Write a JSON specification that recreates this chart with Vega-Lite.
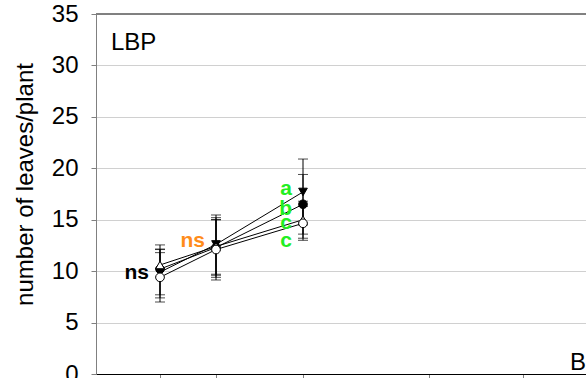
{
  "$schema": "https://vega.github.io/schema/vega-lite/v6.json",
  "width": 490,
  "height": 360,
  "autosize": {"type": "none"},
  "padding": {"left": 96, "top": 14, "right": 0, "bottom": 4},
  "background": "white",
  "config": {
    "font": "Liberation Sans",
    "view": {"stroke": null},
    "axis": {"labelFont": "Liberation Sans", "titleFont": "Liberation Sans"}
  },
  "datasets": {
    "leaves": [
      {"series": "S1", "t": 6.4, "mean": 9.9, "lo": 7.4, "hi": 12.15},
      {"series": "S1", "t": 12.0, "mean": 12.6, "lo": 9.7, "hi": 15.46},
      {"series": "S1", "t": 20.7, "mean": 17.7, "lo": 14.5, "hi": 20.9},
      {"series": "S2", "t": 6.4, "mean": 10.2, "lo": 7.7, "hi": 12.55},
      {"series": "S2", "t": 12.0, "mean": 12.3, "lo": 9.4, "hi": 15.2},
      {"series": "S2", "t": 20.7, "mean": 16.5, "lo": 13.6, "hi": 19.4},
      {"series": "S3", "t": 6.4, "mean": 10.6, "lo": 9.4, "hi": 11.8},
      {"series": "S3", "t": 12.0, "mean": 12.4, "lo": 9.6, "hi": 15.0},
      {"series": "S3", "t": 20.7, "mean": 15.0, "lo": 13.2, "hi": 16.8},
      {"series": "S4", "t": 6.4, "mean": 9.4, "lo": 7.0, "hi": 12.1},
      {"series": "S4", "t": 12.0, "mean": 12.1, "lo": 9.14, "hi": 15.0},
      {"series": "S4", "t": 20.7, "mean": 14.65, "lo": 13.0, "hi": 16.3}
    ],
    "letters": [
      {"t": 6.4, "v": 9.24, "label": "ns", "group": "date1"},
      {"t": 12.0, "v": 12.38, "label": "ns", "group": "date2"},
      {"t": 20.7, "v": 17.4, "label": "a", "group": "date3"},
      {"t": 20.7, "v": 15.46, "label": "b", "group": "date3"},
      {"t": 20.7, "v": 14.1, "label": "c", "group": "date3"},
      {"t": 20.7, "v": 12.35, "label": "c", "group": "date3"}
    ],
    "panel": [
      {"t": 1.5, "v": 31.5, "label": "LBP"},
      {"t": 47.4, "v": 0.39, "label": "B"}
    ]
  },
  "layer": [
    {
      "data": {"name": "leaves"},
      "mark": {"type": "rule", "color": "#808080", "strokeWidth": 1},
      "encoding": {
        "y": {
          "datum": 35,
          "type": "quantitative",
          "scale": {"domain": [0, 35], "nice": false},
          "axis": {
            "values": [0, 5, 10, 15, 20, 25, 30, 35],
            "grid": true,
            "gridColor": "#d0d0d0",
            "gridWidth": 1,
            "domainColor": "#808080",
            "tickColor": "#808080",
            "tickSize": 5,
            "labelFontSize": 24,
            "labelColor": "black",
            "labelPadding": 13,
            "title": "number of leaves/plant",
            "titleFontSize": 24,
            "titleFontWeight": "normal",
            "titleColor": "black",
            "titlePadding": 14,
            "titleY": 170
          }
        }
      }
    },
    {
      "data": {"name": "leaves"},
      "mark": {"type": "rule", "color": "black", "strokeWidth": 1},
      "encoding": {
        "x": {
          "field": "t",
          "type": "quantitative",
          "scale": {"domain": [0, 49], "nice": false},
          "axis": {
            "values": [6.4, 12.0, 20.7, 33.3, 42.7],
            "labels": false,
            "grid": false,
            "domainColor": "black",
            "tickColor": "#808080",
            "tickSize": 5,
            "title": null
          }
        },
        "y": {"field": "lo", "type": "quantitative"},
        "y2": {"field": "hi"}
      }
    },
    {
      "data": {"name": "leaves"},
      "mark": {"type": "tick", "orient": "horizontal", "color": "black", "size": 10, "thickness": 1},
      "encoding": {
        "x": {"field": "t", "type": "quantitative"},
        "y": {"field": "lo", "type": "quantitative"}
      }
    },
    {
      "data": {"name": "leaves"},
      "mark": {"type": "tick", "orient": "horizontal", "color": "black", "size": 10, "thickness": 1},
      "encoding": {
        "x": {"field": "t", "type": "quantitative"},
        "y": {"field": "hi", "type": "quantitative"}
      }
    },
    {
      "data": {"name": "leaves"},
      "mark": {"type": "line", "color": "black", "strokeWidth": 1},
      "encoding": {
        "x": {"field": "t", "type": "quantitative"},
        "y": {"field": "mean", "type": "quantitative"},
        "detail": {"field": "series"}
      }
    },
    {
      "data": {"name": "leaves"},
      "mark": {"type": "point", "filled": true, "size": 75, "stroke": "black", "strokeWidth": 1, "opacity": 1},
      "encoding": {
        "x": {"field": "t", "type": "quantitative"},
        "y": {"field": "mean", "type": "quantitative"},
        "shape": {
          "field": "series",
          "type": "nominal",
          "scale": {"domain": ["S1", "S2", "S3", "S4"], "range": ["triangle-down", "circle", "triangle-up", "circle"]},
          "legend": null
        },
        "fill": {
          "field": "series",
          "type": "nominal",
          "scale": {"domain": ["S1", "S2", "S3", "S4"], "range": ["black", "black", "white", "white"]},
          "legend": null
        }
      }
    },
    {
      "data": {"name": "letters"},
      "mark": {"type": "text", "align": "right", "baseline": "alphabetic", "dx": -11, "fontSize": 21, "fontWeight": "bold"},
      "encoding": {
        "x": {"field": "t", "type": "quantitative"},
        "y": {"field": "v", "type": "quantitative"},
        "text": {"field": "label"},
        "color": {
          "field": "group",
          "type": "nominal",
          "scale": {"domain": ["date1", "date2", "date3"], "range": ["black", "#ff8c1a", "#22ee22"]},
          "legend": null
        }
      }
    },
    {
      "data": {"name": "panel"},
      "mark": {"type": "text", "align": "left", "baseline": "alphabetic", "fontSize": 24, "color": "black"},
      "encoding": {
        "x": {"field": "t", "type": "quantitative"},
        "y": {"field": "v", "type": "quantitative"},
        "text": {"field": "label"}
      }
    }
  ]
}
